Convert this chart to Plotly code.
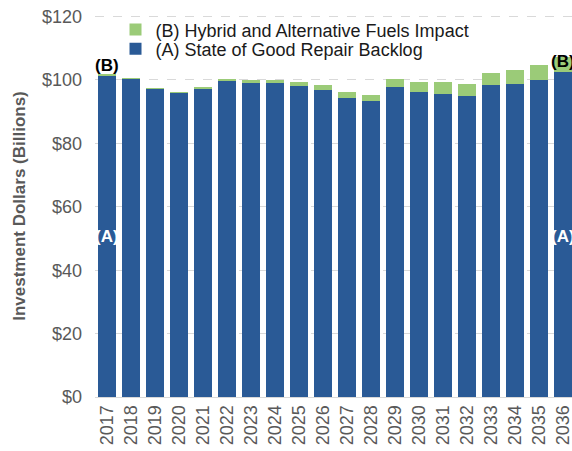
import plotly.graph_objects as go

years = [str(y) for y in range(2017, 2037)]
backlog = [101.4, 100.4, 97.2, 95.9, 97.3, 99.8, 99.1, 99.1, 98.2, 96.9,
           94.4, 93.5, 97.9, 96.1, 95.7, 94.9, 98.3, 98.6, 99.9, 102.4]
hybrid = [0.2, 0.1, 0.2, 0.3, 0.5, 0.6, 0.9, 1.0, 1.2, 1.4,
          1.8, 1.8, 2.3, 3.4, 3.7, 3.7, 4.0, 4.4, 4.8, 5.0]
y_ticks = [0, 20, 40, 60, 80, 100, 120]
y_labels = ["$" + str(v) for v in y_ticks]

blue = "#2A5A96"
green = "#9BCB78"
grey = "#595959"

fig = go.Figure()
fig.add_trace(go.Bar(x=years, y=backlog, name="(A) State of Good Repair Backlog",
                     marker=dict(color=blue, line=dict(width=0)), legend="legend2"))
fig.add_trace(go.Bar(x=years, y=hybrid, name="(B) Hybrid and Alternative Fuels Impact",
                     marker=dict(color=green, line=dict(width=0)), legend="legend"))

# (A)/(B) markers on first and last bars
for i in [0, len(years) - 1]:
    fig.add_annotation(x=i, y=50.5, xref="x", yref="y", text="<b>(A)</b>",
                       showarrow=False, font=dict(size=17, color="white"))
fig.add_annotation(x=0, y=104.6, xref="x", yref="y", text="<b>(B)</b>",
                   showarrow=False, font=dict(size=17, color="black"))
fig.add_annotation(x=len(years) - 1, y=105.8, xref="x", yref="y", text="<b>(B)</b>",
                   showarrow=False, font=dict(size=17, color="black"))

leg = dict(x=0.043, xanchor="left", yanchor="middle", bgcolor="rgba(0,0,0,0)",
           font=dict(size=18, color="#1a1a1a"), itemwidth=30, visible=True)

fig.update_layout(
    width=572, height=451,
    showlegend=True,
    barmode="stack", bargap=0.25,
    plot_bgcolor="white", paper_bgcolor="white",
    margin=dict(l=95, r=0, t=15, b=54),
    font=dict(family="Liberation Sans, Arial, sans-serif", color=grey, size=18),
    legend=dict(leg, y=0.961),
    legend2=dict(leg, y=0.911),
    xaxis=dict(type="category", range=[-0.5, 19.375], tickangle=-90,
               showline=True, linecolor="#d9d9d9", linewidth=1, automargin=False,
               tickfont=dict(size=18, color=grey), ticks=""),
    yaxis=dict(range=[0, 120.5], tickvals=y_ticks, ticktext=y_labels,
               showgrid=True, gridcolor="#d9d9d9", griddash="dash", gridwidth=1,
               zeroline=False, ticklabelstandoff=12, automargin=False,
               ticklabeloverflow="allow",
               tickfont=dict(size=18, color=grey),
               title=dict(text="<b>Investment Dollars (Billions)</b>",
                          font=dict(size=17, color=grey), standoff=12)),
)

# drop the browser's default body margin so the figure sits at the page corner
fig.write_html("out.html", config={"displayModeBar": False},
               post_script="document.body.style.margin='0';")
